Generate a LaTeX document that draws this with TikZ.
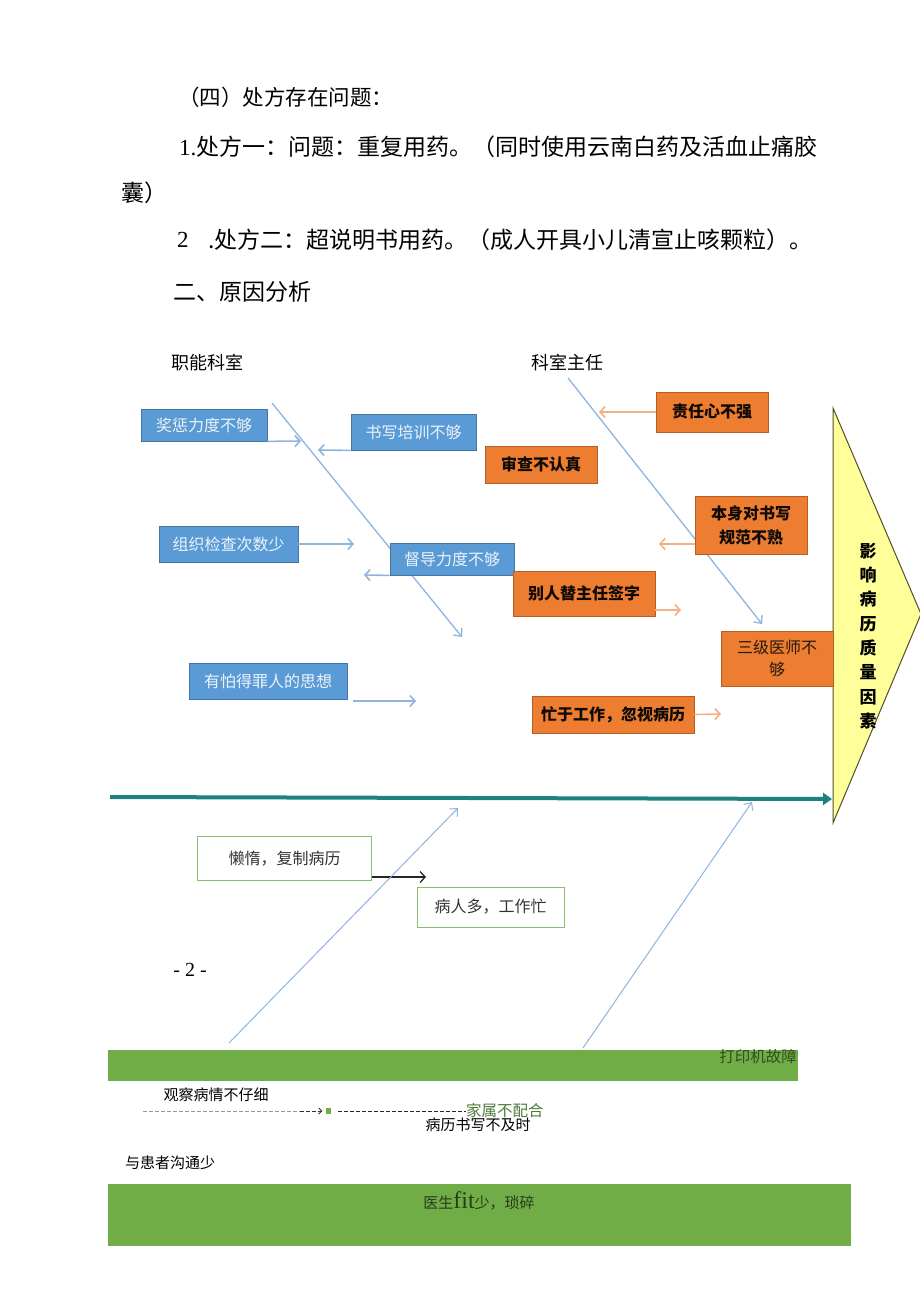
\documentclass[tikz,border=0pt]{standalone}
\usepackage{fontspec}
\setmainfont{Noto Sans CJK SC}
\newfontfamily\latinserif{Liberation Serif}
\usepackage{xcolor}
\usepackage{tikz}
\usetikzlibrary{arrows.meta,positioning,calc}

\definecolor{boxblue}{HTML}{5B9BD5}
\definecolor{lineblue}{HTML}{8FB5DE}
\definecolor{boxorange}{HTML}{ED7D31}
\definecolor{arroworange}{HTML}{F4B183}
\definecolor{spineteal}{HTML}{1E8282}
\definecolor{bargreen}{HTML}{70AD47}
\definecolor{dashgreen}{HTML}{8CA37E}
\definecolor{textgreen}{HTML}{4F7A3A}
\definecolor{headyellow}{HTML}{FFFF99}

\begin{document}
\begin{tikzpicture}[
  x=1pt, y=-1pt,
  para/.style={anchor=west, inner sep=0pt, font=\fontsize{23}{23}\selectfont},
  catname/.style={inner sep=0pt, font=\fontsize{18}{18}\selectfont},
  bluebox/.style={draw=boxblue!75!black, fill=boxblue, text=white!88!boxblue, line width=0.8pt, inner sep=0pt, font=\fontsize{16}{20}\selectfont, align=center},
  orangebox/.style={draw=boxorange!75!black, fill=boxorange, text=black!92!brown, line width=0.8pt, inner sep=0pt, font=\fontsize{16}{24}\selectfont\bfseries, align=center},
  greenbox/.style={draw=bargreen!80, fill=white, line width=0.8pt, inner sep=0pt, font=\fontsize{16}{20}\selectfont, text=black!80},
  bone/.style={-{Straight Barb[length=6pt,width=11pt]}, lineblue, line width=1.3pt},
  barrow/.style={-{Straight Barb[length=5pt,width=11pt]}, lineblue, line width=1.6pt},
  oarrow/.style={-{Straight Barb[length=5pt,width=11pt]}, arroworange, line width=1.6pt},
  smalltext/.style={inner sep=0pt, font=\fontsize{15}{15}\selectfont}
]
\fill[white] (0,0) rectangle (920,1301);
\useasboundingbox (0,0) rectangle (920,1301);

% text above the diagram
\node[para, font=\fontsize{21.5}{21.5}\selectfont] (t1) at (178,97) {（四）处方存在问题：};
\node[para] (t2) at (179,147) {{\latinserif 1.}处方一：问题：重复用药。（同时使用云南白药及活血止痛胶};
\node[para] (t3) at (121,193) {囊）};
\node[para] (t4n) at (177,240) {\latinserif 2};
\node[para] (t4) at (208,240) {.处方二：超说明书用药。（成人开具小儿清宣止咳颗粒）。};
\node[para] (t5) at (173,292) {二、原因分析};

% categories
\node[catname] (znks) at (207,363) {职能科室};
\node[catname] (kszr) at (567,363) {科室主任};

% bones
\coordinate (b1s) at (272,403);
\coordinate (b1e) at (462,637);
\coordinate (b2s) at (568,378);
\coordinate (b2e) at (762,624);
\draw[bone] (b1s) -- (b1e);
\draw[bone] (b2s) -- (b2e);

% head
\coordinate (hd-top) at (833,408);
\coordinate (hd-tip) at (921,614);
\coordinate (hd-bot) at (833,823);
\draw[fill=headyellow, draw=black!55!olive, line width=1pt] (hd-top) -- (hd-tip) -- (hd-bot) -- cycle;
\node[inner sep=0pt, align=center, font=\fontsize{17}{24.3}\selectfont\bfseries] (yx) at (868,636) {影\\响\\病\\历\\质\\量\\因\\素};

% spine
\coordinate (tail) at (110,797);
\coordinate (head) at (832,799);
\draw[-{Triangle[length=9pt,width=12pt]}, spineteal, line width=4pt] (tail) -- (head);

% blue causes
\node[bluebox, minimum width=126pt, minimum height=32pt] (jc) at (204,425) {奖惩力度不够};
\node[bluebox, minimum width=125pt, minimum height=36pt] (sx) at (413.5,432) {书写培训不够};
\node[bluebox, minimum width=139pt, minimum height=36pt] (zz) at (228.5,544) {组织检查次数少};
\node[bluebox, minimum width=124pt, minimum height=32pt] (dd) at (452,559) {督导力度不够};
\node[bluebox, minimum width=158pt, minimum height=36pt] (yp) at (268,681) {有怕得罪人的思想};

\coordinate (jc-t) at (301,441);
\coordinate (sx-t) at (318,450);
\coordinate (zz-t) at (354,544);
\coordinate (dd-t) at (364,575);
\coordinate (yp-t) at (416,701);
\draw[barrow] (jc.south east) -- (jc-t);
\draw[barrow] (sx.south west) -- (sx-t);
\draw[barrow] (zz.east) -- (zz-t);
\draw[barrow] (dd.south west) -- (dd-t);
\draw[barrow, shorten <=6pt] (yp.east |- yp-t) -- (yp-t);

% orange causes
\node[orangebox, minimum width=112pt, minimum height=40pt] (zr) at (712,412) {责任心不强};
\node[orangebox, minimum width=112pt, minimum height=37pt] (sc) at (541,464.5) {审查不认真};
\node[orangebox, minimum width=112pt, minimum height=58pt] (bs) at (751,525) {本身对书写\\规范不熟};
\node[orangebox, minimum width=142pt, minimum height=45pt] (br) at (584,593.5) {别人替主任签字};
\node[orangebox, minimum width=112pt, minimum height=55pt, font=\fontsize{16}{22}\selectfont, text=black!80!brown] (sj) at (777,658.5) {三级医师不\\够};
\node[orangebox, minimum width=162pt, minimum height=37pt] (mg) at (613,714.5) {忙于工作，忽视病历};

\coordinate (zr-t) at (599,412);
\coordinate (bs-t) at (659,544);
\coordinate (br-t) at (681,610);
\coordinate (mg-t) at (721,714);
\draw[oarrow] (zr.west) -- (zr-t);
\draw[oarrow] (bs.west |- bs-t) -- (bs-t);
\draw[oarrow] (br.east |- br-t) -- (br-t);
\draw[oarrow] (mg.east) -- (mg-t);

% lower side
\node[greenbox, minimum width=174pt, minimum height=44pt] (ld) at (284.5,858.5) {懒惰，复制病历};
\node[greenbox, minimum width=147pt, minimum height=40pt] (brd) at (490.5,907) {病人多，工作忙};
\coordinate (ld-t) at (426,877);
\draw[-{Straight Barb[length=5pt,width=11pt]}, black!85, line width=1.3pt] (ld.east |- ld-t) -- (ld-t);

\coordinate (b3s) at (229,1043);
\coordinate (b3e) at (458,808);
\coordinate (b4s) at (583,1048);
\coordinate (b4e) at (752,802);
\draw[bone, line width=1pt] (b3s) -- (b3e);
\draw[bone, line width=1pt] (b4s) -- (b4e);

\node[inner sep=0pt, font=\latinserif\fontsize{20}{20}\selectfont] (pg) at (190,970) {- 2 -};

% green bars
\node[fill=bargreen, inner sep=0pt, minimum width=690pt, minimum height=31pt, anchor=north west] (bar1) at (108,1050) {};
\node[smalltext, anchor=east, text=black!55!bargreen, font=\fontsize{15.5}{15.5}\selectfont] (dyj) at (797,1057) {打印机故障};

\node[smalltext] (gc) at (216,1095) {观察病情不仔细};
\coordinate (d0) at (143,1111);
\coordinate (d1) at (300,1111);
\node[fill=bargreen, inner sep=0pt, minimum width=5pt, minimum height=6pt] (sq) at (328,1111) {};
\node[smalltext, anchor=west, text=textgreen, font=\fontsize{15.5}{15.5}\selectfont] (jsh) at (466,1111) {家属不配合};
\node[smalltext] (bl) at (478,1125) {病历书写不及时};
\draw[dashed, dashgreen, line width=0.8pt, dash pattern=on 4pt off 2pt] (d0) -- (d1);
\draw[-{Straight Barb[length=3pt,width=6pt]}, black!80, line width=0.8pt, dash pattern=on 4pt off 2pt, shorten >=3pt] (d1) -- (sq.west);
\draw[black!85, line width=0.8pt, dash pattern=on 4pt off 2pt, shorten <=7pt] (sq.east) -- (jsh.west);

\node[smalltext] (hz) at (170,1163) {与患者沟通少};

\node[fill=bargreen, inner sep=0pt, minimum width=743pt, minimum height=62pt, anchor=north west] (bar2) at (108,1184) {};
\node[smalltext, text=black!65!bargreen] (ys) at (479,1201) {医生{\latinserif\fontsize{24}{24}\selectfont fit}少，琐碎};

\end{tikzpicture}
\end{document}
